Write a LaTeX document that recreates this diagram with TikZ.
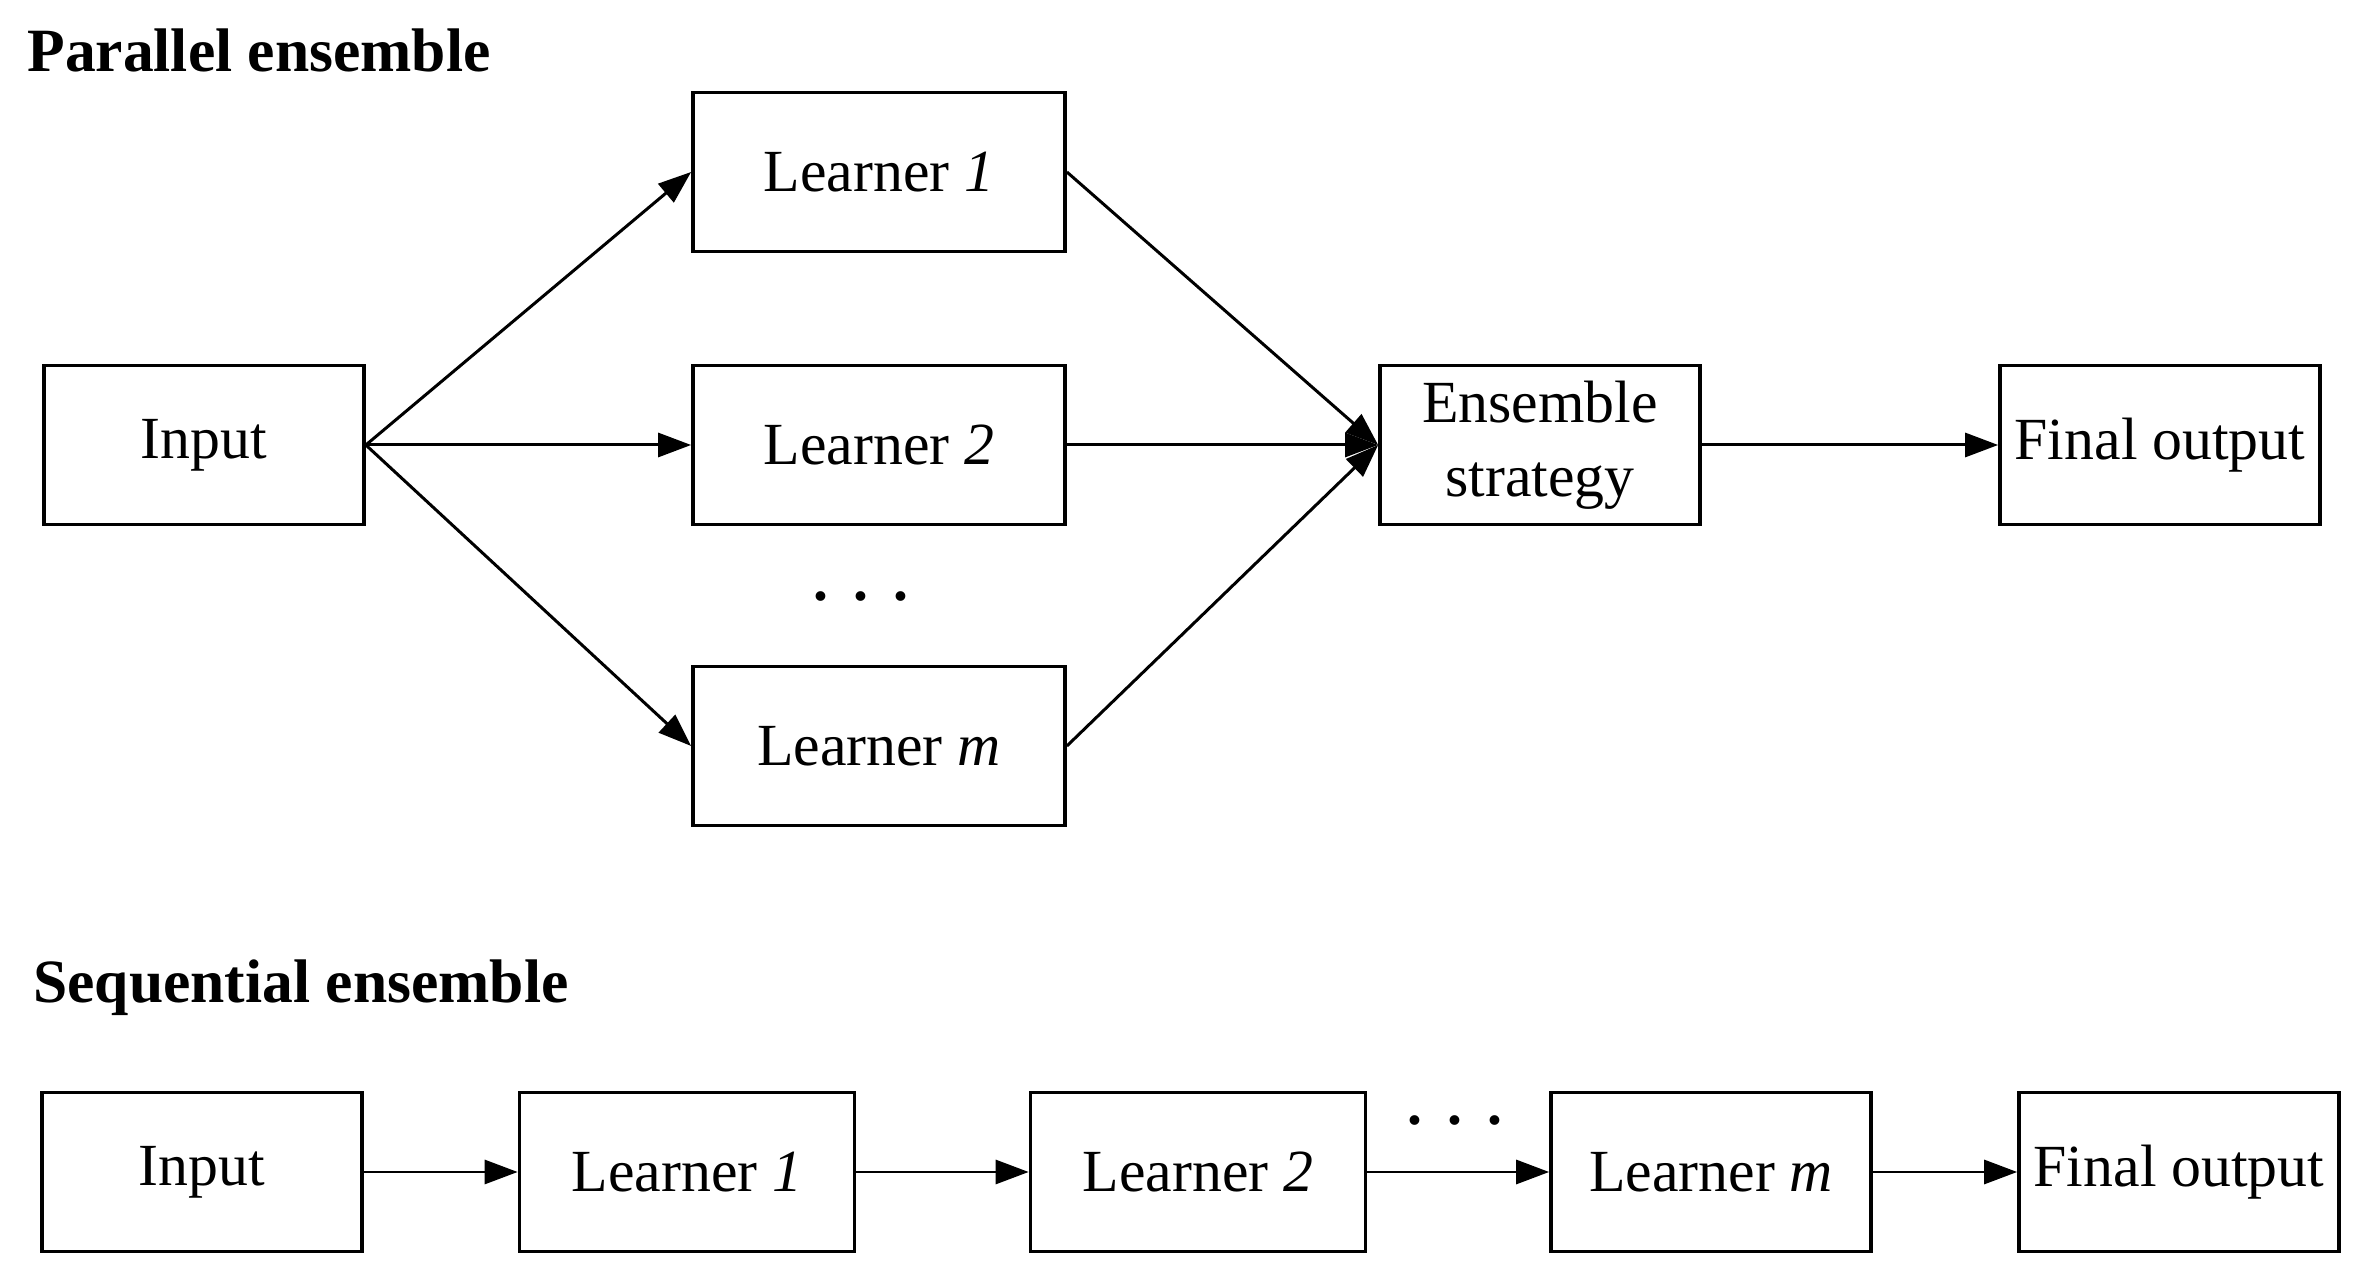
\documentclass[tikz,border=0pt]{standalone}
\usepackage{fontspec}
\setmainfont{Liberation Serif}
\usetikzlibrary{arrows.meta,positioning}
\tikzset {
    box/.style={draw, line width=1pt, minimum width=3.2cm,
        minimum height=1.59cm, align=center, inner sep=2pt,
        font=\fontsize{17}{21}\selectfont},
    heading/.style={anchor=base west,
        font=\fontsize{17.5}{20}\selectfont\bfseries},
    dots/.style={inner sep=0pt, font=\fontsize{17}{21}\selectfont\bfseries},
    link/.style={line width=0.85pt,
        -{Triangle[length=3.3mm, width=2.4mm]}}
}
\newcommand{\threedots}{.\hspace{7pt}.\hspace{7pt}.}

\begin{document}
\begin{tikzpicture}[x=0.01cm, y=-0.01cm]

        \useasboundingbox (0,0) rectangle (2369,1286);

        % parallel ensemble
        \node[heading] (PT) at (15,72) {Parallel ensemble};
        \node[box] (In) at (204,445) {Input};
        \node[box, minimum width=3.72cm] (L1) at (879,172) {Learner \textit{1}};
        \node[box, minimum width=3.72cm] (L2) at (879,445) {Learner \textit{2}};
        \node[dots] (D) at (861,597) {\threedots};
        \node[box, minimum width=3.72cm] (Lm) at (879,746) {Learner \textit{m}};
        \node[box] (ES) at (1540,445) {Ensemble\\strategy};
        \node[box] (Out) at (2160,445) {Final output};

        \draw[link] (In.east) -- (L1.west);
        \draw[link] (In.east) -- (L2.west);
        \draw[link] (In.east) -- (Lm.west);
        \draw[link] (L1.east) -- (ES.west);
        \draw[link] (L2.east) -- (ES.west);
        \draw[link] (Lm.east) -- (ES.west);
        \draw[link] (ES) -- (Out);

        % sequential ensemble
        \node[heading] (ST) at (21,1003) {Sequential ensemble};
        \node[box] (sIn) at (202,1172) {Input};
        \node[box, minimum width=3.35cm] (sL1) at (687,1172) {Learner \textit{1}};
        \node[box, minimum width=3.35cm] (sL2) at (1198,1172) {Learner \textit{2}};
        \node[box] (sLm) at (1711,1172) {Learner \textit{m}};
        \node[box] (sOut) at (2179,1172) {Final output};
        \node[dots] (sD) at (1455,1121) {\threedots};

        \draw[link] (sIn) -- (sL1);
        \draw[link] (sL1) -- (sL2);
        \draw[link] (sL2) -- (sLm);
        \draw[link] (sLm) -- (sOut);

    \end{tikzpicture}
\end{document}
